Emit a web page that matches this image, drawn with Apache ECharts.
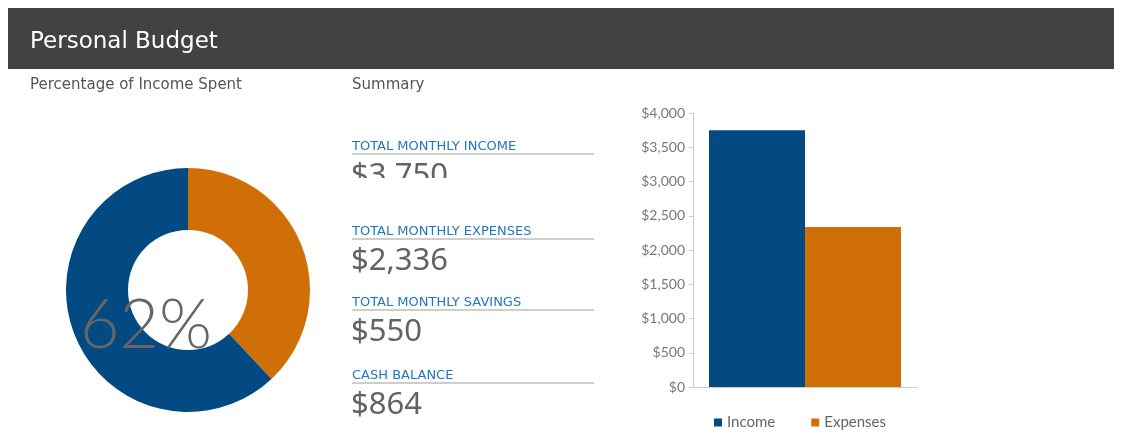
<!DOCTYPE html>
<html>
<head>
<meta charset="utf-8">
<script src="https://cdn.jsdelivr.net/npm/echarts@6/dist/echarts.min.js"></script>
<style>
  html, body { margin: 0; padding: 0; background: #fff; }
  #main { width: 1122px; height: 438px; }
</style>
</head>
<body>
<div id="main"></div>
<script>
// data
var pieNames = ['Remaining', 'Spent'];
var pieValues = [38, 62];
var spentLabel = '62%';

var summaryLabels = ['TOTAL MONTHLY INCOME', 'TOTAL MONTHLY EXPENSES', 'TOTAL MONTHLY SAVINGS', 'CASH BALANCE'];
var summaryValues = ['$3,750', '$2,336', '$550', '$864'];

var barCategories = ['Budget'];
var barSeriesNames = ['Income', 'Expenses'];
var barValues = [3750, 2336];

var BLUE = '#034a82';
var ORANGE = '#d06f06';

var myChart = echarts.init(document.getElementById('main'));

// summary block: label, rule, big number
var ruleY = [154, 239, 310, 383];
var summaryGraphics = [];
summaryLabels.forEach(function (lab, i) {
  summaryGraphics.push({
    type: 'text', left: 352, top: ruleY[i] - 14,
    style: { text: lab, fill: '#1d77bd', font: '13px "DejaVu Sans"' }
  });
  summaryGraphics.push({
    type: 'line', shape: { x1: 352, y1: ruleY[i], x2: 594, y2: ruleY[i] },
    style: { stroke: '#cfcfca', lineWidth: 2 }
  });
  summaryGraphics.push({
    type: 'text', left: 351, top: ruleY[i] + 7,
    style: { text: summaryValues[i], fill: '#636363', font: '31px "Noto Sans"' }
  });
});
// the first number is cut off in the original
summaryGraphics.push({
  type: 'rect', z: 100, shape: { x: 348, y: 178, width: 200, height: 40 },
  style: { fill: '#fff' }
});

var option = {
  animation: false,
  graphic: [
    {
      type: 'rect', shape: { x: 8, y: 8, width: 1106, height: 61 },
      style: { fill: '#434240' }
    },
    {
      type: 'text', left: 30, top: 31,
      style: { text: 'Personal Budget', fill: '#fff', font: '23px "DejaVu Sans"' }
    },
    {
      type: 'text', left: 30, top: 78,
      style: { text: 'Percentage of Income Spent', fill: '#555', font: '15px "DejaVu Sans"' }
    },
    {
      type: 'text', left: 352, top: 78,
      style: { text: 'Summary', fill: '#555', font: '15px "DejaVu Sans"' }
    },
    {
      type: 'text', left: 80, top: 292, z: 20,
      style: { text: spentLabel, fill: '#666', font: '300 68px Lato' }
    }
  ].concat(summaryGraphics),
  legend: {
    data: barSeriesNames,
    left: 709,
    top: 410,
    icon: 'rect',
    itemWidth: 8,
    itemHeight: 8,
    itemGap: 36,
    textStyle: { color: '#666', fontSize: 15, fontFamily: 'Lato' }
  },
  grid: { left: 693, right: 205, top: 113, bottom: 51 },
  xAxis: {
    type: 'category',
    data: barCategories,
    axisLine: { lineStyle: { color: '#ccc' } },
    axisTick: { show: false },
    axisLabel: { show: false }
  },
  yAxis: {
    type: 'value',
    min: 0,
    max: 4000,
    interval: 500,
    splitLine: { show: false },
    axisLine: { show: true, lineStyle: { color: '#ccc' } },
    axisTick: { show: true, length: 4, lineStyle: { color: '#ccc' } },
    axisLabel: {
      color: '#777', fontSize: 14, fontFamily: 'Lato', margin: 8,
      formatter: function (v) { return '$' + v.toLocaleString('en-US'); }
    }
  },
  series: [
    {
      type: 'pie',
      silent: true,
      center: [188, 290],
      radius: [60, 122],
      startAngle: 90,
      label: { show: false },
      labelLine: { show: false },
      data: pieValues.map(function (v, i) {
        return { name: pieNames[i], value: v, itemStyle: { color: i === 0 ? ORANGE : BLUE } };
      })
    },
    {
      name: barSeriesNames[0], type: 'bar', barWidth: 96, barGap: '0%',
      itemStyle: { color: BLUE }, data: [barValues[0]]
    },
    {
      name: barSeriesNames[1], type: 'bar', barWidth: 96, barGap: '0%',
      itemStyle: { color: ORANGE }, data: [barValues[1]]
    }
  ]
};

myChart.setOption(option);
</script>
</body>
</html>
